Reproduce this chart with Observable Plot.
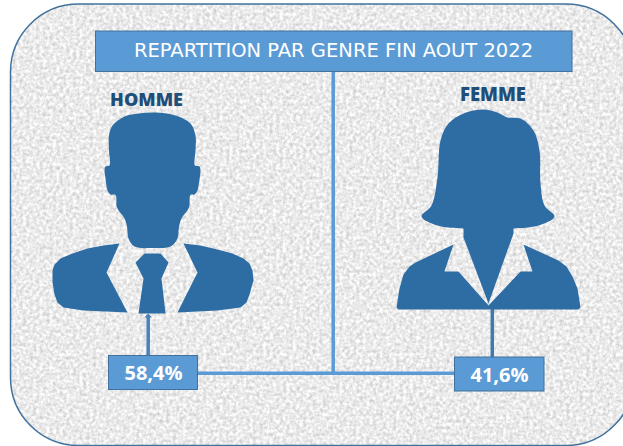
<!DOCTYPE html>
<html lang="fr">
<head>
<meta charset="utf-8">
<script src="https://cdn.jsdelivr.net/npm/d3@7"></script>
<script src="https://cdn.jsdelivr.net/npm/@observablehq/plot@0.6"></script>
<style>
html,body{margin:0;padding:0;background:#fff}
svg{display:block}
</style>
</head>
<body>
<div id="chart"></div>
<script>
// Content
const titleText = "REPARTITION PAR GENRE FIN AOUT 2022";
const genders = ["HOMME", "FEMME"];
const shares = [58.4, 41.6];
const shareLabels = shares.map(v => String(v).replace(".", ",") + "%");

// Silhouette outlines
const manHead = [[152,112],[166,113],[178,116],[190,123],[195,135],[195,150],[194.5,165],[199,166],[200,170],[198.5,182],[197,190],[194,194],[190,194.5],[188.5,207],[181,218],[178.5,226],[177,238],[170,246],[152,247.5],[134,246],[128,238],[126.5,226],[124,218],[116.5,207],[115,194.5],[110,194],[107,190],[105,178],[104,170],[105,166],[109,165],[108.5,150],[108.5,135],[112,125],[124,116],[138,113]];
const manLeftShoulder = [[119,243],[106,272],[127,312],[83,310],[63,307],[57,302],[54,294],[52,282],[52,270],[54,264],[60,258],[72,253],[87,248],[103,245]];
const manRightShoulder = [[183,243],[197,272],[177,312],[217,310],[240,307],[246,302],[249,294],[253,280],[252,270],[249,263],[243,258],[232,253],[217,249],[200,245]];
const manTie = [[144,253],[160,253],[168,262],[161,278],[165,313],[138,313],[143,278],[135,262]];
const womanHair = [[483,109],[497,112],[507,117],[520,118],[533,130],[539,150],[540,183],[544,205],[554,216],[538,225],[513,228],[488,229],[463,228],[437,225],[421,216],[431,205],[437,177],[440,140],[448,123],[463,113]];
const womanNeck = [[463,226],[463,237],[488,303],[513,233],[513,226]];
const womanJacket = [[453,244],[444,271],[458,271],[488,305],[520,271],[532,271],[523,244],[558,260],[566,266],[572,276],[577,288],[580,307],[578,309],[398,309],[396,307],[399,288],[403,274],[409,266],[415,262]];

// Plain layout table: each box and rule of the diagram
const outlines = [
  {name:"manHead", points:manHead, curve:"catmull-rom-closed"},
  {name:"manLeftShoulder", points:manLeftShoulder, curve:"linear-closed"},
  {name:"manRightShoulder", points:manRightShoulder, curve:"linear-closed"},
  {name:"manTie", points:manTie, curve:"linear-closed"},
  {name:"womanHair", points:womanHair, curve:"catmull-rom-closed"},
  {name:"womanNeck", points:womanNeck, curve:"linear-closed"},
  {name:"womanJacket", points:womanJacket, curve:"linear-closed"}
];
const inkBlue = "#2E6DA4", boxBlue = "#5B9BD5", edgeBlue = "#41719C", labelBlue = "#1F4E79";
const labelFont = "Open Sans, Lato, sans-serif";

const marks = [
  Plot.rect([0], {x1:()=>10.5, x2:()=>634, y1:()=>4, y2:()=>445.5, rx:68, ry:68, fill:"#ececec", stroke:"#41719C", strokeWidth:1.5, className:"paper"}),
  Plot.ruleX([332.7], {y1:71, y2:374.5, stroke:boxBlue, strokeWidth:3.5}),
  Plot.ruleY([372.8], {x1:197, x2:455, stroke:boxBlue, strokeWidth:3.5}),
  Plot.ruleX([147.7], {y1:315, y2:355, stroke:"#4A82BC", strokeWidth:3.5}),
  Plot.ruleX([491.8], {y1:308, y2:357, stroke:"#3F79AD", strokeWidth:3.5})
];
for (const o of outlines) {
  marks.push(Plot.line(o.points, {x:"0", y:"1", curve:o.curve, fill:inkBlue, stroke:"none"}));
}
marks.push(
  Plot.line([[144,317],[147.7,313],[151.4,317]], {x:"0", y:"1", curve:"linear-closed", fill:"#4A82BC", stroke:"none"}),
  Plot.rect([0], {x1:()=>95.5, x2:()=>572, y1:()=>31, y2:()=>71.5, fill:boxBlue, stroke:edgeBlue, strokeWidth:1}),
  Plot.rect([0], {x1:()=>108.5, x2:()=>197.5, y1:()=>355.5, y2:()=>389.5, fill:boxBlue, stroke:edgeBlue, strokeWidth:1}),
  Plot.rect([0], {x1:()=>454.5, x2:()=>544, y1:()=>357, y2:()=>391, fill:boxBlue, stroke:edgeBlue, strokeWidth:1}),
  Plot.text([titleText], {x:333, y:50, text:d=>d, fill:"#fff", fontSize:19.5, fontFamily:"DejaVu Sans, sans-serif"}),
  Plot.text([genders[0]], {x:146, y:100, text:d=>d, fill:labelBlue, fontSize:18, fontWeight:800, fontFamily:labelFont}),
  Plot.text([genders[1]], {x:492.5, y:95, text:d=>d, fill:labelBlue, fontSize:18.5, fontWeight:800, fontFamily:labelFont}),
  Plot.text([shareLabels[0]], {x:153, y:373, text:d=>d, fill:"#fff", fontSize:20, fontWeight:700, fontFamily:labelFont}),
  Plot.text([shareLabels[1]], {x:499, y:375, text:d=>d, fill:"#fff", fontSize:20, fontWeight:700, fontFamily:labelFont})
);

const chart = Plot.plot({
  width:623, height:446,
  margin:0,
  x:{domain:[0,623], range:[0,623], axis:null},
  y:{domain:[0,446], range:[0,446], axis:null},
  style:{background:"#fff"},
  marks
});

// Speckled paper texture on the rounded panel (SVG filter, no data)
const svg = d3.select(chart);
const filter = svg.append("defs").append("filter").attr("id","paperTexture")
  .attr("x","0").attr("y","0").attr("width","1").attr("height","1")
  .attr("color-interpolation-filters","sRGB");
filter.append("feTurbulence").attr("type","fractalNoise").attr("baseFrequency",0.3).attr("numOctaves",3).attr("seed",4).attr("result","n");
filter.append("feColorMatrix").attr("in","n").attr("type","matrix")
  .attr("values","0 0 0 0.34 0.75  0 0 0 0.34 0.75  0 0 0 0.34 0.75  0 0 0 0 1").attr("result","c");
filter.append("feComposite").attr("in","c").attr("in2","SourceAlpha").attr("operator","in");
svg.select(".paper rect, rect.paper").each(function(){
  const panel = d3.select(this);
  const clone = this.cloneNode(true);
  this.parentNode.appendChild(clone);
  d3.select(clone).attr("fill","none");
  panel.attr("stroke","none").attr("filter","url(#paperTexture)");
});
document.getElementById("chart").appendChild(chart);
</script>
</body>
</html>
